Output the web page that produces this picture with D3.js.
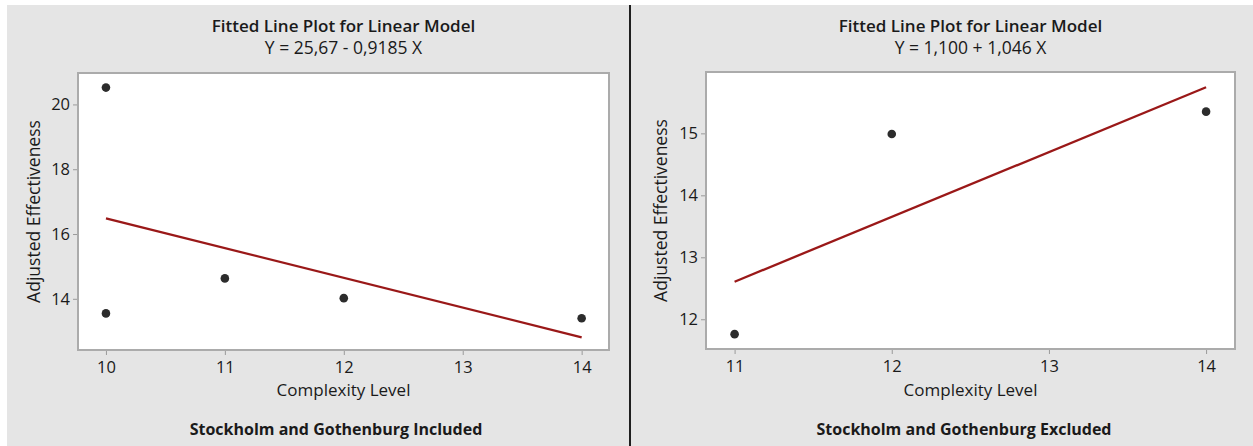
<!DOCTYPE html>
<html>
<head>
<meta charset="utf-8">
<script src="https://cdn.jsdelivr.net/npm/d3@7"></script>
<style>
  html, body { margin: 0; padding: 0; background: #ffffff; }
  svg { display: block; }
  text { font-family: "Open Sans", "Noto Sans", sans-serif; fill: #1a1a1a; }
  .tick line { stroke: #9a9a9a; }
  .domain { display: none; }
</style>
</head>
<body>
<svg id="chart" width="1253" height="446"></svg>
<script>
// Complexity level vs adjusted effectiveness, with and without Stockholm and Gothenburg
const includedX = [10, 10, 11, 12, 14];
const includedY = [20.52, 13.55, 14.63, 14.02, 13.40];
const includedFit = { intercept: 25.67, slope: -0.9185 };
const includedXTicks = [10, 11, 12, 13, 14];
const includedYTicks = [14, 16, 18, 20];

const excludedX = [11, 12, 14];
const excludedY = [11.76, 14.99, 15.35];
const excludedFit = { intercept: 1.100, slope: 1.046 };
const excludedXTicks = [11, 12, 13, 14];
const excludedYTicks = [12, 13, 14, 15];

const titleText = "Fitted Line Plot for Linear Model";
const xLabel = "Complexity Level";
const yLabel = "Adjusted Effectiveness";
const captions = ["Stockholm and Gothenburg Included", "Stockholm and Gothenburg Excluded"];
const equations = ["Y = 25,67 - 0,9185 X", "Y = 1,100 + 1,046 X"];

const svg = d3.select("#chart");
const fmt = v => String(v);

// panel backgrounds and divider
svg.append("rect").attr("x", 7).attr("y", 5).attr("width", 622).attr("height", 441).attr("fill", "#e5e5e5");
svg.append("rect").attr("x", 631).attr("y", 5).attr("width", 622).attr("height", 441).attr("fill", "#e5e5e5");
svg.append("rect").attr("x", 629).attr("y", 5).attr("width", 2).attr("height", 441).attr("fill", "#1f1f1f");

function panel(cfg) {
  const g = svg.append("g");
  const x = d3.scaleLinear().domain(cfg.xDomain).range([cfg.left, cfg.right]);
  const y = d3.scaleLinear().domain(cfg.yDomain).range([cfg.bottom, cfg.top]);
  const cx = (cfg.left + cfg.right) / 2;

  // plot area
  g.append("rect")
    .attr("x", cfg.left).attr("y", cfg.top)
    .attr("width", cfg.right - cfg.left).attr("height", cfg.bottom - cfg.top)
    .attr("fill", "#ffffff").attr("stroke", "#ababab").attr("stroke-width", 2);

  // axes
  const xa = g.append("g").attr("transform", `translate(0,${cfg.bottom + 1})`)
    .call(d3.axisBottom(x).tickValues(cfg.xTicks).tickFormat(fmt).tickSize(4).tickPadding(6));
  const ya = g.append("g").attr("transform", `translate(${cfg.left - 1},0)`)
    .call(d3.axisLeft(y).tickValues(cfg.yTicks).tickFormat(fmt).tickSize(4).tickPadding(3));
  [xa, ya].forEach(a => a.selectAll("text").attr("font-size", 16.5).style("fill", "#1a1a1a"));

  // fitted line across the observed range
  const xs = d3.extent(cfg.xs);
  g.append("line")
    .attr("x1", x(xs[0])).attr("y1", y(cfg.fit.intercept + cfg.fit.slope * xs[0]))
    .attr("x2", x(xs[1])).attr("y2", y(cfg.fit.intercept + cfg.fit.slope * xs[1]))
    .attr("stroke", "#9a1818").attr("stroke-width", 2.3);

  // observations
  g.selectAll("circle.pt").data(cfg.xs.map((v, i) => [v, cfg.ys[i]])).join("circle")
    .attr("class", "pt")
    .attr("cx", d => x(d[0])).attr("cy", d => y(d[1])).attr("r", 4.3)
    .attr("fill", "#2c2c2c");

  // titles and labels
  g.append("text").attr("x", cx).attr("y", 32).attr("text-anchor", "middle")
    .attr("font-size", 17).attr("font-weight", 600).text(titleText);
  g.append("text").attr("x", cx).attr("y", 54).attr("text-anchor", "middle")
    .attr("font-size", 17.5).text(cfg.equation);
  g.append("text").attr("x", cx).attr("y", 396).attr("text-anchor", "middle")
    .attr("font-size", 17).text(xLabel);
  g.append("text").attr("transform", `translate(${cfg.yLabelX},${(cfg.top + cfg.bottom) / 2}) rotate(-90)`)
    .attr("text-anchor", "middle").attr("font-size", 17.5).text(yLabel);
  g.append("text").attr("x", cfg.captionX).attr("y", 435).attr("text-anchor", "middle")
    .attr("font-size", 16).attr("font-weight", 700).text(cfg.caption);
}

panel({
  left: 78, right: 609, top: 73, bottom: 350,
  xDomain: [9.765, 14.23], yDomain: [12.42, 20.97],
  xTicks: includedXTicks, yTicks: includedYTicks,
  xs: includedX, ys: includedY, fit: includedFit,
  equation: equations[0], caption: captions[0], captionX: 336, yLabelX: 40
});

panel({
  left: 706, right: 1235, top: 72, bottom: 349,
  xDomain: [10.818, 14.184], yDomain: [11.52, 15.99],
  xTicks: excludedXTicks, yTicks: excludedYTicks,
  xs: excludedX, ys: excludedY, fit: excludedFit,
  equation: equations[1], caption: captions[1], captionX: 964, yLabelX: 667
});
</script>
</body>
</html>
